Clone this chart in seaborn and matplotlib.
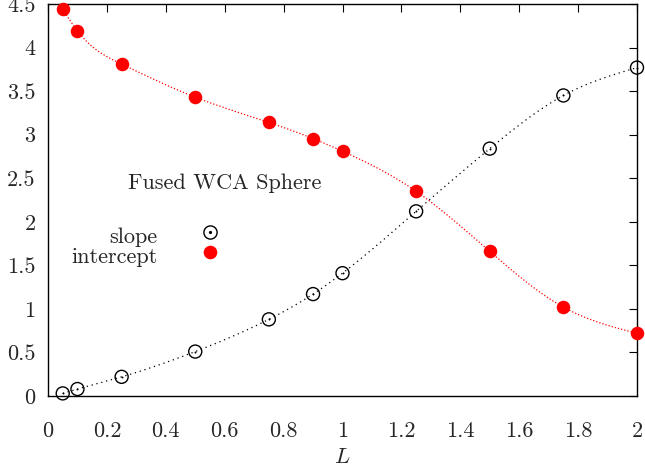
import numpy as np
import pandas as pd
import matplotlib
matplotlib.use("Agg")
import matplotlib.pyplot as plt
import seaborn as sns
from matplotlib.ticker import FuncFormatter
from matplotlib.lines import Line2D

# ---- data ----
L = [0.05, 0.1, 0.25, 0.5, 0.75, 0.9, 1.0, 1.25, 1.5, 1.75, 2.0]
slope = [0.03, 0.08, 0.22, 0.51, 0.88, 1.17, 1.41, 2.12, 2.84, 3.45, 3.77]
intercept = [4.44, 4.19, 3.81, 3.43, 3.14, 2.955, 2.81, 2.35, 1.66, 1.02, 0.72]
x_ticks = [0, 0.2, 0.4, 0.6, 0.8, 1.0, 1.2, 1.4, 1.6, 1.8, 2.0]
y_ticks = [0, 0.5, 1, 1.5, 2, 2.5, 3, 3.5, 4, 4.5]
title_text = "Fused WCA Sphere"


def natural_cubic_spline(x, y, xs):
    x = np.asarray(x, float); y = np.asarray(y, float)
    n = len(x); h = np.diff(x)
    A = np.zeros((n, n)); b = np.zeros(n)
    A[0, 0] = 1; A[-1, -1] = 1
    for i in range(1, n - 1):
        A[i, i - 1] = h[i - 1]; A[i, i] = 2 * (h[i - 1] + h[i]); A[i, i + 1] = h[i]
        b[i] = 3 * ((y[i + 1] - y[i]) / h[i] - (y[i] - y[i - 1]) / h[i - 1])
    c = np.linalg.solve(A, b)
    bc = (y[1:] - y[:-1]) / h - h * (2 * c[:-1] + c[1:]) / 3
    d = (c[1:] - c[:-1]) / (3 * h)
    idx = np.clip(np.searchsorted(x, xs) - 1, 0, n - 2)
    dx = xs - x[idx]
    return y[idx] + bc[idx] * dx + c[idx] * dx ** 2 + d[idx] * dx ** 3


sns.set_theme(style="white")
plt.rcParams["font.family"] = ["cmr10", "DejaVu Serif"]
plt.rcParams["mathtext.fontset"] = "cm"
plt.rcParams["axes.formatter.use_mathtext"] = True

FS = 16
TXT = "#262626"

fig = plt.figure(figsize=(6.45, 4.72), dpi=100)
ax = fig.add_axes([48 / 645, 76 / 472, 589 / 645, 392 / 472])

df = pd.DataFrame({"L": L, "slope": slope, "intercept": intercept})
xs = np.linspace(L[0], L[-1], 500)
curve = pd.DataFrame({"L": xs,
                      "slope": natural_cubic_spline(L, slope, xs),
                      "intercept": natural_cubic_spline(L, intercept, xs)})

sns.lineplot(data=curve, x="L", y="intercept", ax=ax, color="red",
             linewidth=0.9, linestyle=(0, (1, 1.6)), sort=False)
sns.lineplot(data=curve, x="L", y="slope", ax=ax, color="black",
             linewidth=0.9, linestyle=(0, (1, 3)), sort=False)

sns.scatterplot(data=df, x="L", y="intercept", ax=ax, color="red", s=95,
                edgecolor="red", linewidth=0, clip_on=False, zorder=5)
sns.scatterplot(data=df, x="L", y="slope", ax=ax, facecolor="none", s=88,
                edgecolor="black", linewidth=1.0, clip_on=False, zorder=5)
sns.scatterplot(data=df, x="L", y="slope", ax=ax, color="black", s=2,
                linewidth=0, clip_on=False, zorder=6)

ax.set_xlim(0, 2)
ax.set_ylim(0, 4.5)
ax.set_xticks(x_ticks)
ax.set_yticks(y_ticks)
fmt = FuncFormatter(lambda v, p: "%g" % v)
ax.xaxis.set_major_formatter(fmt)
ax.yaxis.set_major_formatter(fmt)
ax.tick_params(direction="in", length=6, width=0.8, top=True, right=True,
               labelsize=FS, colors="black", labelcolor=TXT)
ax.tick_params(axis="x", pad=18)
ax.tick_params(axis="y", pad=9)
for s in ax.spines.values():
    s.set_color("black"); s.set_linewidth(1.0)
ax.set_xlabel("$L$", fontsize=FS, color=TXT, labelpad=5)
ax.set_ylabel("")

ax.text(0.136, 0.528, title_text, transform=ax.transAxes, ha="left",
        va="baseline", fontsize=FS, color=TXT)

h_slope = (Line2D([], [], marker="o", linestyle="none", markersize=9.5,
                  markerfacecolor="none", markeredgecolor="black", markeredgewidth=1.0),
           Line2D([], [], marker="o", linestyle="none", markersize=1.3, color="black"))
h_int = Line2D([], [], marker="o", linestyle="none", markersize=9.8,
               color="red", markeredgewidth=0)
leg = ax.legend([h_slope, h_int], ["slope", "intercept"], markerfirst=False,
                loc="center right", bbox_to_anchor=(0.2937, 0.382), frameon=False,
                fontsize=FS, handlelength=1.0, handletextpad=1.86,
                handleheight=1.75, labelspacing=-0.48, borderpad=0, borderaxespad=0)
for t in leg.get_texts():
    t.set_color(TXT)

fig.savefig("out.png", dpi=100)
